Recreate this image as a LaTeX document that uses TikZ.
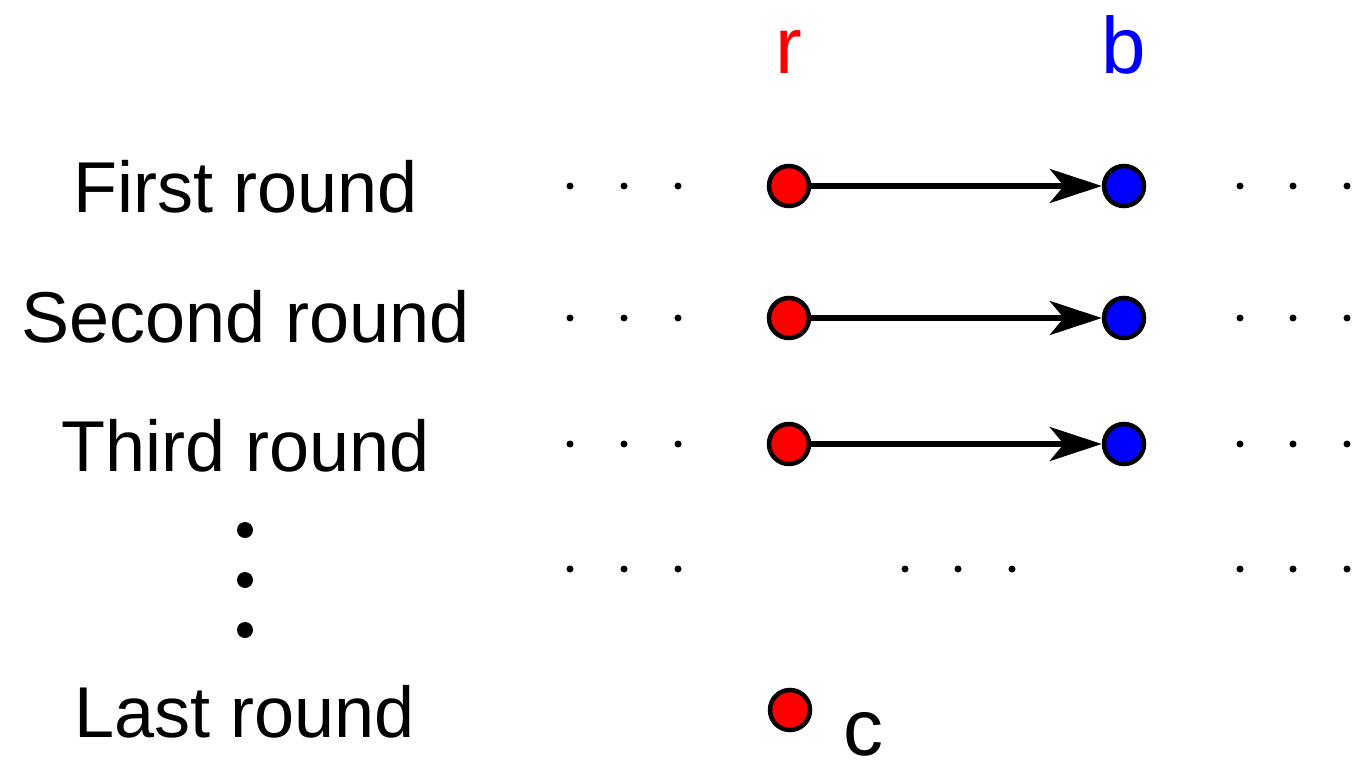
\documentclass[tikz,border=0pt]{standalone}
\usepackage{fontspec}
\setmainfont{Liberation Sans}
\usetikzlibrary{arrows.meta}
\tikzset{
  lbl/.style={font=\fontsize{72}{80}\selectfont, anchor=base, inner sep=0pt},
  big/.style={font=\fontsize{80}{88}\selectfont, anchor=base, inner sep=0pt},
  rdot/.style={circle, draw=black, fill=red, line width=4.5pt, minimum size=40pt, inner sep=0pt},
  bdot/.style={circle, draw=black, fill=blue, line width=4.5pt, minimum size=40pt, inner sep=0pt},
  sdot/.style={circle, fill=black, minimum size=7pt, inner sep=0pt},
  vdot/.style={circle, fill=black, minimum size=16pt, inner sep=0pt},
  link/.style={line width=5.5pt, -{Stealth[length=52pt,width=34pt,inset=14pt]}},
}
\begin{document}
\begin{tikzpicture}[x=1pt,y=-1pt]
\useasboundingbox (0,0) rectangle (1354,762);
% headers
\node[big, text=red] (hr) at (789,74) {r};
\node[big, text=blue] (hb) at (1124,74) {b};
% labels
\node[lbl] (l1) at (246,212) {First round};
\node[lbl] (l2) at (246,342) {Second round};
\node[lbl] (l3) at (246,471) {Third round};
\node[lbl] (l4) at (245,737) {Last round};
% vertical dots
\node[vdot] (v1) at (245,530) {};
\node[vdot] (v2) at (245,580) {};
\node[vdot] (v3) at (245,630) {};
% rows
\foreach \y/\n in {186/1,318/2,444/3}{
  \node[rdot] (r\n) at (789,\y) {};
  \node[bdot] (b\n) at (1124,\y) {};
  \draw[link] (r\n) -- (b\n);
  \foreach \x/\k in {570/a,624/b,678/c,1240/d,1293/e,1347/f}{
    \node[sdot] (d\n\k) at (\x,\y) {};
  }
}
\foreach \x/\k in {570/a,624/b,678/c,905/g,958/h,1012/i,1240/d,1293/e,1347/f}{
  \node[sdot] (d4\k) at (\x,569) {};
}
% last round
\node[rdot] (r4) at (790,710) {};
\node[big] (c) at (863,755) {c};
\end{tikzpicture}
\end{document}
